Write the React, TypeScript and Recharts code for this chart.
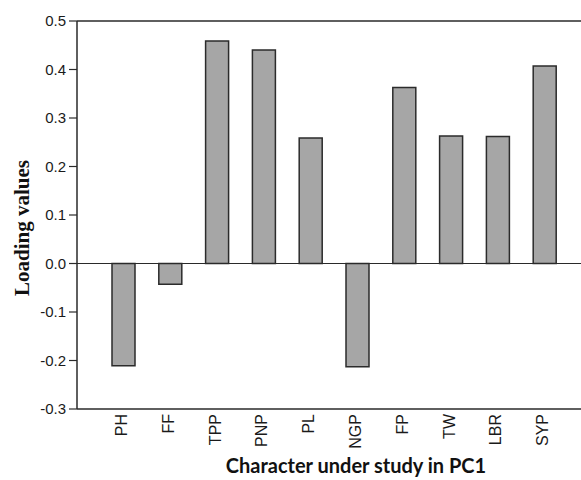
import React from "react";
import { BarChart, Bar, XAxis, YAxis, ReferenceLine, Label } from "recharts";

const categories = ["PH", "FF", "TPP", "PNP", "PL", "NGP", "FP", "TW", "LBR", "SYP"];
const loadings = [-0.211, -0.043, 0.459, 0.44, 0.259, -0.213, 0.363, 0.263, 0.262, 0.407];
const yTicks = [-0.3, -0.2, -0.1, 0.0, 0.1, 0.2, 0.3, 0.4, 0.5];

const data = categories.map((c, i) => ({ name: c, value: loadings[i] }));

const AXIS = "#2a2a2a";
const FONT = "'Liberation Sans', Arial, sans-serif";

const XTick = (props: any) => {
  const { x, y, payload } = props;
  const ty = y + 1;
  const tx = x - 2;
  return (
    <text
      x={tx}
      y={ty}
      transform={`rotate(-90, ${tx}, ${ty})`}
      textAnchor="end"
      dominantBaseline="central"
      fontFamily={FONT}
      fontSize={16}
      fill="#1a1a1a"
    >
      {payload.value}
    </text>
  );
};

export default function App() {
  return (
    <div style={{ position: "absolute", left: 0, top: 0, width: 581, height: 480, background: "#fff" }}>
      <BarChart
        width={581}
        height={480}
        data={data}
        margin={{ top: 21, right: 0, bottom: 0, left: 0 }}
      >
        <ReferenceLine y={0.5} stroke={AXIS} strokeWidth={1.5} />
        <ReferenceLine y={0} stroke={AXIS} strokeWidth={1} />
        <XAxis
          dataKey="name"
          height={71}
          padding={{ left: 23, right: 13 }}
          axisLine={{ stroke: AXIS, strokeWidth: 1.5 }}
          tickLine={false}
          tickSize={0}
          tickMargin={4}
          interval={0}
          tick={<XTick />}
        >
          <Label
            content={(p: any) => {
              const vb = p.viewBox;
              return (
                <text
                  x={vb.x + vb.width / 2 + 27}
                  y={473}
                  textAnchor="middle"
                  fontFamily="Lato, 'Open Sans', sans-serif"
                  fontWeight="bold"
                  fontSize={20}
                  fill="#111"
                >
                  Character under study in PC1
                </text>
              );
            }}
          />
        </XAxis>
        <YAxis
          width={77}
          domain={[-0.3, 0.5]}
          ticks={yTicks}
          allowDataOverflow
          tickFormatter={(v: number) => v.toFixed(1)}
          axisLine={{ stroke: AXIS, strokeWidth: 1.5 }}
          tickLine={{ stroke: AXIS, strokeWidth: 1.2 }}
          tickSize={8}
          tickMargin={3}
          tick={{ fontFamily: FONT, fontSize: 15, fill: "#1a1a1a" }}
        >
          <Label
            content={(p: any) => {
              const vb = p.viewBox;
              const cx = vb.x + 22;
              const cy = vb.y + vb.height / 2 + 13;
              return (
                <text
                  x={cx}
                  y={cy}
                  transform={`rotate(-90, ${cx}, ${cy})`}
                  textAnchor="middle"
                  dominantBaseline="central"
                  fontFamily="'Liberation Serif', 'Times New Roman', serif"
                  fontWeight="bold"
                  fontSize={21}
                  fill="#111"
                >
                  Loading values
                </text>
              );
            }}
          />
        </YAxis>
        <Bar
          dataKey="value"
          fill="#a6a6a6"
          stroke="#2b2b2b"
          strokeWidth={1.5}
          barSize={23}
          isAnimationActive={false}
        />
      </BarChart>
    </div>
  );
}
